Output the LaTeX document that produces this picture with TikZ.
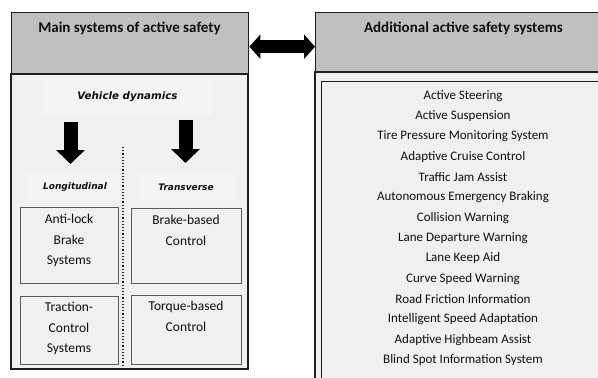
\documentclass[tikz,border=0pt]{standalone}
\usepackage{fontspec}
\setmainfont{Carlito}
\newfontfamily\comicf{DejaVu Sans}
\usetikzlibrary{arrows.meta}
\definecolor{hdr}{RGB}{192,192,192}
\definecolor{bodyc}{RGB}{240,240,240}
\definecolor{lblc}{RGB}{244,244,244}
\definecolor{edge}{RGB}{30,30,30}
\definecolor{ibox}{RGB}{90,90,90}
\definecolor{txt}{RGB}{15,15,15}
\tikzset{
  x=1pt,y=-1pt,
  panel/.style={draw=edge, line width=1.4pt},
  title/.style={font=\bfseries\fontsize{15}{17}\selectfont, text=txt},
  item/.style={font=\fontsize{13}{15}\selectfont, text=txt},
  ital/.style={font=\comicf\bfseries\itshape\fontsize{9}{11}\selectfont, text=txt},
  subbox/.style={draw=ibox, line width=0.9pt, fill=bodyc},
  boxtext/.style={font=\fontsize{13.5}{20.3}\selectfont, text=txt, align=center, anchor=north},
  blockarrow/.style={line width=14pt, -{Triangle[length=14pt,width=28pt]}},
  dblarrow/.style={line width=13pt, {Triangle[length=11pt,width=24pt]}-{Triangle[length=11pt,width=24pt]}},
}
\begin{document}
\begin{tikzpicture}
\useasboundingbox (0,0) rectangle (598,378);
% left panel
\fill[bodyc] (11,74) rectangle (248,369);
\node[panel, fill=hdr, minimum width=237pt, minimum height=62pt, inner sep=0, anchor=north west] (lhead) at (11,12) {};
\draw[panel] (11,74) rectangle (248,369);
\node[title] (ltitle) at (129.5,28) {Main systems of active safety};
% right panel
\fill[bodyc] (315,72) rectangle (612,390);
\node[panel, fill=hdr, minimum width=297pt, minimum height=60pt, inner sep=0, anchor=north west] (rhead) at (315,12) {};
\draw[panel] (315,72) rectangle (612,390);
\draw[draw=edge, line width=0.9pt] (321,390) -- (321,81) -- (612,81);
\node[title] (rtitle) at (463.5,28) {Additional active safety systems};
% double arrow
\draw[dblarrow] ([yshift=-3pt]lhead.east) -- ([yshift=-3pt]lhead.east -| rhead.west);
% vehicle dynamics
\fill[lblc] (42,80) rectangle (213,115);
\node[ital, font=\comicf\bfseries\itshape\fontsize{10.3}{12}\selectfont] (vd) at (127.5,97) {Vehicle dynamics};
\fill[lblc] (25,173) rectangle (120,200);
\fill[lblc] (137,173) rectangle (233,200);
\node[ital] (lon) at (75,187) {Longitudinal};
\node[ital] (tra) at (186,187) {Transverse};
\coordinate (la1) at (70.5,122);
\coordinate (la2) at (70.5,164);
\coordinate (ra1) at (185.5,120);
\coordinate (ra2) at (185.5,163);
\draw[blockarrow] (la1) -- (la2);
\draw[blockarrow] (ra1) -- (ra2);
\draw[line width=1.2pt, dotted, edge] (123,147) -- (123,369);
% sub boxes
\draw[subbox] (20,207) rectangle (118,283);
\node[boxtext] (abs) at (69,211) {Anti-lock\\Brake\\Systems};
\draw[subbox] (131,208) rectangle (241,283);
\node[boxtext] (bbc) at (186,212) {Brake-based\\Control};
\draw[subbox] (20,296) rectangle (118,364);
\node[boxtext] (tcs) at (69,299) {Traction-\\Control\\Systems};
\draw[subbox] (131,295) rectangle (241,364);
\node[boxtext] (tbc) at (186,298) {Torque-based\\Control};
% list
\foreach \t [count=\i from 0] in {Active Steering,Active Suspension,Tire Pressure Monitoring System,Adaptive Cruise Control,Traffic Jam Assist,Autonomous Emergency Braking,Collision Warning,Lane Departure Warning,Lane Keep Aid,Curve Speed Warning,Road Friction Information,Intelligent Speed Adaptation,Adaptive Highbeam Assist,Blind Spot Information System}
  \node[item] (it\i) at (463,96+20.3*\i) {\t};
\end{tikzpicture}
\end{document}
